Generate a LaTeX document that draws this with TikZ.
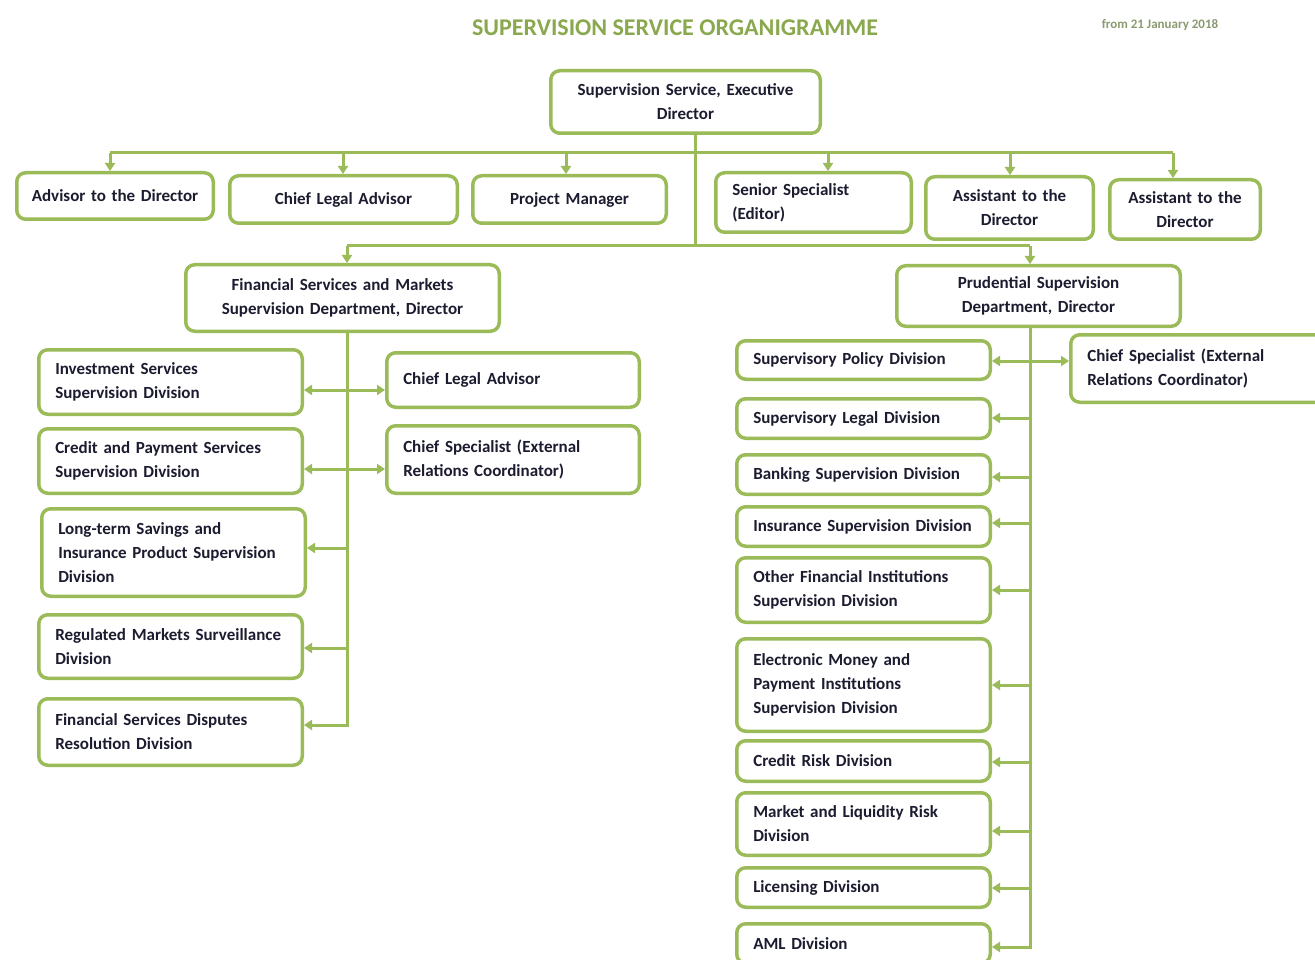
\documentclass[tikz,border=0pt]{standalone}
\usepackage{fontspec}
\setmainfont{Carlito}
\usetikzlibrary{arrows.meta}
\definecolor{lg}{HTML}{9BBB59}
\definecolor{tg}{HTML}{8AA84E}
\definecolor{dg}{HTML}{8C9A70}
\definecolor{txt}{HTML}{1C1C30}
\tikzset{
  box/.style={draw=lg, line width=3.5pt, rounded corners=9pt, fill=white, text=txt,
    inner ysep=2pt, font=\fontsize{17}{24}\selectfont\bfseries},
  conn/.style={draw=lg, line width=3pt},
  arr/.style={conn, -{Triangle[length=8pt,width=10pt]}},
  darr/.style={conn, {Triangle[length=8pt,width=10pt]}-{Triangle[length=8pt,width=10pt]}},
}
\newcommand\mkbox[8]{%
  \pgfmathsetmacro\bxw{#4-#2-3.5}%
  \pgfmathsetmacro\bxh{#5-#3-3.5}%
  \pgfmathsetmacro\bxt{#4-#2-3.5-2*#7}%
  \pgfmathsetmacro\bxc{(#2+#4)/2}%
  \pgfmathsetmacro\bxm{(#3+#5)/2}%
  \node[box, align=#6, inner xsep=#7pt, text width=\bxt pt, minimum width=\bxw pt, minimum height=\bxh pt] (#1) at (\bxc,\bxm) {#8};}
\newcommand\lbox[6]{\mkbox{#1}{#2}{#3}{#4}{#5}{left}{16.5}{#6}}
\newcommand\cbox[6]{\mkbox{#1}{#2}{#3}{#4}{#5}{center}{4}{#6}}
\begin{document}
\begin{tikzpicture}[x=1pt,y=-1pt]
\useasboundingbox (0,0) rectangle (1315,960);
\node[text=tg, font=\fontsize{24}{28}\selectfont\bfseries] (ttl) at (675,28) {SUPERVISION SERVICE ORGANIGRAMME};
\node[text=dg, font=\fontsize{13}{15}\selectfont\bfseries] (date) at (1160,25) {from 21 January 2018};

% top level
\cbox{exec}{549}{69}{822}{135}{Supervision Service, Executive\\Director}
\cbox{adv}{15}{171}{215}{221}{Advisor to the Director}
\cbox{cla}{228}{174}{459}{225}{Chief Legal Advisor}
\cbox{pm}{471}{174}{668}{225}{Project Manager}
\lbox{sen}{714}{171}{913}{234}{Senior Specialist\\(Editor)}
\cbox{as1}{924}{175}{1095}{241}{Assistant to the\\Director}
\cbox{as2}{1108}{178}{1262}{241}{Assistant to the\\Director}
\cbox{fsm}{184}{263}{501}{333}{Financial Services and Markets\\Supervision Department, Director}
\cbox{pru}{895}{264}{1182}{328}{Prudential Supervision\\Department, Director}

% left department
\lbox{inv}{37}{348}{304}{416}{Investment Services\\Supervision Division}
\lbox{cps}{37}{427}{304}{495}{Credit and Payment Services\\Supervision Division}
\lbox{lts}{40}{507}{307}{598}{Long-term Savings and\\Insurance Product Supervision\\Division}
\lbox{rms}{37}{613}{304}{680}{Regulated Markets Surveillance\\Division}
\lbox{fsd}{37}{697}{304}{767}{Financial Services Disputes\\Resolution Division}
\lbox{cla2}{385}{351}{641}{409}{Chief Legal Advisor\\[4pt]}
\lbox{cse}{385}{424}{641}{495}{Chief Specialist (External\\Relations Coordinator)}

% right department
\lbox{spd}{735}{339}{992}{381}{Supervisory Policy Division}
\lbox{sld}{735}{397}{992}{440}{Supervisory Legal Division}
\lbox{bsd}{735}{453}{992}{496}{Banking Supervision Division}
\lbox{isd}{735}{505}{992}{548}{Insurance Supervision Division}
\lbox{ofi}{735}{556}{992}{624}{Other Financial Institutions\\Supervision Division}
\lbox{emp}{735}{637}{992}{733}{Electronic Money and\\Payment Institutions\\Supervision Division}
\lbox{crd}{735}{739}{992}{783}{Credit Risk Division}
\lbox{mlr}{735}{791}{992}{857}{Market and Liquidity Risk\\Division}
\lbox{lic}{735}{866}{992}{909}{Licensing Division}
\lbox{aml}{735}{922}{992}{965}{AML Division}
\lbox{cs2}{1069}{333}{1330}{404}{Chief Specialist (External\\Relations Coordinator)}

% junction coordinates
\coordinate (j1) at (695,153);
\coordinate (j2) at (695,246);
\coordinate (t1) at (110,153);
\coordinate (t2) at (343,153);
\coordinate (t3) at (566,153);
\coordinate (t4) at (828,153);
\coordinate (t5) at (1010,153);
\coordinate (t6) at (1173,153);
\coordinate (s1) at (347,246);
\coordinate (s2) at (1030,246);
\coordinate (l1) at (347,390);
\coordinate (l2) at (347,469);
\coordinate (l3) at (347,548);
\coordinate (l4) at (347,648);
\coordinate (l5) at (347,725);
\coordinate (r1) at (1030,361);
\coordinate (r2) at (1030,418);
\coordinate (r3) at (1030,477);
\coordinate (r4) at (1030,523);
\coordinate (r5) at (1030,590);
\coordinate (r6) at (1030,685);
\coordinate (r7) at (1030,762);
\coordinate (r8) at (1030,831);
\coordinate (r9) at (1030,888);
\coordinate (r10) at (1030,947);

% connectors top
\draw[conn] (exec.south -| j1) -- (j2);
\draw[conn] (t1) -- (t6);
\draw[arr] (t1) -- (t1 |- adv.north);
\draw[arr] (t2) -- (t2 |- cla.north);
\draw[arr] (t3) -- (t3 |- pm.north);
\draw[arr] (t4) -- (t4 |- sen.north);
\draw[arr] (t5) -- (t5 |- as1.north);
\draw[arr] (t6) -- (t6 |- as2.north);
\draw[conn] (s1) -- (s2);
\draw[arr] (s1) -- (s1 |- fsm.north);
\draw[arr] (s2) -- (s2 |- pru.north);

% left trunk
\draw[arr] (fsm.south -| l5) -- (l5) -- (l5 -| fsd.east);
\draw[darr] (l1 -| inv.east) -- (l1 -| cla2.west);
\draw[darr] (l2 -| cps.east) -- (l2 -| cse.west);
\draw[arr] (l3) -- (l3 -| lts.east);
\draw[arr] (l4) -- (l4 -| rms.east);

% right trunk
\draw[arr] (pru.south -| r10) -- (r10) -- (r10 -| aml.east);
\draw[darr] (r1 -| spd.east) -- (r1 -| cs2.west);
\draw[arr] (r2) -- (r2 -| sld.east);
\draw[arr] (r3) -- (r3 -| bsd.east);
\draw[arr] (r4) -- (r4 -| isd.east);
\draw[arr] (r5) -- (r5 -| ofi.east);
\draw[arr] (r6) -- (r6 -| emp.east);
\draw[arr] (r7) -- (r7 -| crd.east);
\draw[arr] (r8) -- (r8 -| mlr.east);
\draw[arr] (r9) -- (r9 -| lic.east);
\end{tikzpicture}
\end{document}
